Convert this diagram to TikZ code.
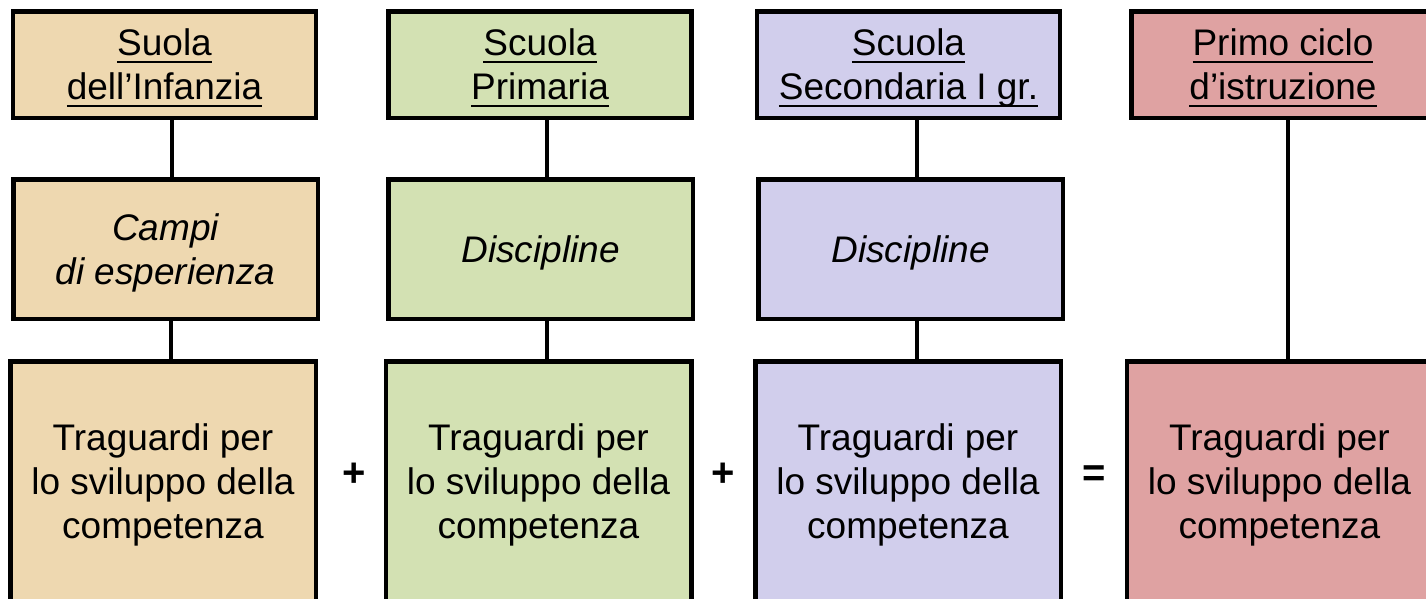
\documentclass[tikz,border=0pt]{standalone}
\usepackage{fontspec}
\setmainfont{Liberation Sans}
\definecolor{tanfill}{RGB}{238,216,176}
\definecolor{greenfill}{RGB}{211,225,179}
\definecolor{lilacfill}{RGB}{209,206,236}
\definecolor{rosefill}{RGB}{223,162,162}
\newsavebox\ulsavebox
\newcommand{\ulx}[1]{\sbox\ulsavebox{#1}\rlap{\rule[-0.2em]{\wd\ulsavebox}{0.065em}}\usebox\ulsavebox}
\tikzset{
  box/.style={draw=black, line width=4.5pt, rectangle, inner sep=0pt, align=center,
    font=\fontsize{37}{44}\selectfont, text depth=0pt},
  headbox/.style={box, minimum width=303pt, minimum height=106.5pt},
  midbox/.style={box, minimum width=304.5pt, minimum height=139.5pt},
  goalbox/.style={box, minimum width=305.5pt, minimum height=240.5pt},
  link/.style={draw=black, line width=4pt},
  opsign/.style={font=\fontsize{40}{44}\selectfont\bfseries, inner sep=0pt}
}
\begin{document}
\begin{tikzpicture}[x=1pt, y=-1pt]
\useasboundingbox (0,0) rectangle (1426,598);
\clip (0,0) rectangle (1426,598);
% column 1
\node[headbox, fill=tanfill] (t1) at (164.5,64.5) {\ulx{Suola}\\\ulx{dell’Infanzia}};
\node[midbox, fill=tanfill] (m1) at (165.5,249) {\itshape Campi\\\itshape di esperienza};
\node[goalbox, fill=tanfill] (b1) at (163,481.5) {Traguardi per\\lo sviluppo della\\competenza};
% column 2
\node[headbox, fill=greenfill] (t2) at (540,64.5) {\ulx{Scuola}\\\ulx{Primaria}};
\node[midbox, fill=greenfill] (m2) at (540.5,249) {\itshape Discipline};
\node[goalbox, fill=greenfill] (b2) at (538.5,481.5) {Traguardi per\\lo sviluppo della\\competenza};
% column 3
\node[headbox, fill=lilacfill] (t3) at (908.5,64.5) {\ulx{Scuola}\\\ulx{Secondaria I gr.}};
\node[midbox, fill=lilacfill] (m3) at (910.5,249) {\itshape Discipline};
\node[goalbox, fill=lilacfill] (b3) at (908,481.5) {Traguardi per\\lo sviluppo della\\competenza};
% column 4
\node[headbox, fill=rosefill] (t4) at (1283,64.5) {\ulx{Primo ciclo}\\\ulx{d’istruzione}};
\node[goalbox, fill=rosefill] (b4) at (1279.5,481.5) {Traguardi per\\lo sviluppo della\\competenza};
% connectors
\draw[link] ([xshift=7.5pt]t1.south) -- ([xshift=7.5pt]t1.south |- m1.north);
\draw[link] ([xshift=5.5pt]m1.south) -- ([xshift=5.5pt]m1.south |- b1.north);
\draw[link] ([xshift=7pt]t2.south) -- ([xshift=7pt]t2.south |- m2.north);
\draw[link] ([xshift=6.5pt]m2.south) -- ([xshift=6.5pt]m2.south |- b2.north);
\draw[link] ([xshift=8.5pt]t3.south) -- ([xshift=8.5pt]t3.south |- m3.north);
\draw[link] ([xshift=6.5pt]m3.south) -- ([xshift=6.5pt]m3.south |- b3.north);
\draw[link] ([xshift=5pt]t4.south) -- ([xshift=5pt]t4.south |- b4.north);
% operators
\node[opsign] (p1) at (354,475) {+};
\node[opsign] (p2) at (723,475) {+};
\node[opsign] (eq) at (1094,476) {=};
\end{tikzpicture}
\end{document}
